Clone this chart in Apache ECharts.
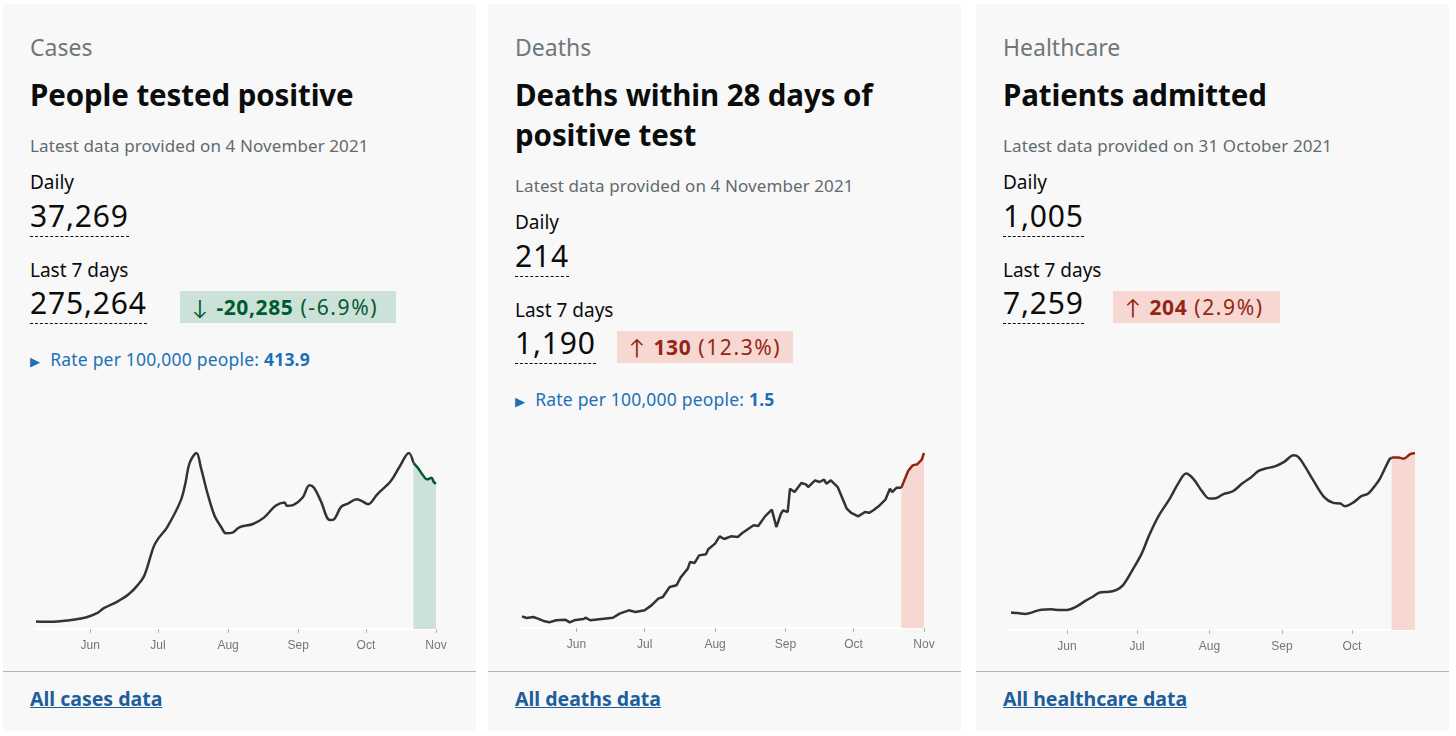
<!DOCTYPE html>
<html>
<head>
<meta charset="utf-8">
<title>Coronavirus summary</title>
<script src="https://cdn.jsdelivr.net/npm/echarts@6/dist/echarts.min.js"></script>
<style>
	body { margin:0; width:1456px; height:736px; background:#fff; font-family:"Noto Sans", Lato, sans-serif; color:#0b0c0c; overflow:hidden; }
	.card { position:absolute; top:4px; width:473px; height:727px; background:#f8f8f8; }
	.card > * { position:absolute; left:27px; margin:0; white-space:nowrap; }
	.caption { top:28px; font-size:23px; line-height:30px; color:#6f777b; }
	.headline { top:71px; font-size:29.5px; line-height:40px; font-weight:700; letter-spacing:-0.1px; }
	.updated { font-size:17px; line-height:24px; color:#626a6e; letter-spacing:0.1px; }
	.label { font-size:19px; line-height:26px; }
	.num { font-size:30px; line-height:32px; padding-bottom:4px; border-bottom:1px dashed #0b0c0c; letter-spacing:0.8px; }
	.badge { height:32px; line-height:32px; font-size:21px; padding:0 12px; letter-spacing:1.6px; }
	.badge b { letter-spacing:0.6px; }
	.down { background:#cce2d8; color:#005a30; }
	.up { background:#f6d7d2; color:#942514; }
	.rate { font-size:17.5px; line-height:24px; color:#1d70b8; letter-spacing:0.2px; }
	.rate .tri { font-size:13px; margin-right:10px; }
	.chart { left:0 !important; top:420px; width:473px; height:240px; }
	.rule { left:0 !important; top:667px; width:473px; height:1px; background:#b1b4b6; }
	.more { top:682px; font-size:19.5px; line-height:26px; font-weight:700; color:#1d5e9b; text-decoration:underline; }
</style>
</head>
<body>

<div class="card" style="left:3px">
	<div class="caption">Cases</div>
	<h2 class="headline">People tested positive</h2>
	<div class="updated" style="top:130px">Latest data provided on 4 November 2021</div>
	<div class="label" style="top:165px">Daily</div>
	<div class="num" style="top:196px">37,269</div>
	<div class="label" style="top:253px">Last 7 days</div>
	<div class="num" style="top:283px">275,264</div>
	<div class="badge down" style="top:287px;left:177px;padding-right:18px">&#8595; <b>-20,285</b> (-6.9%)</div>
	<div class="rate" style="top:343px"><span class="tri">&#9654;</span>Rate per 100,000 people: <b>413.9</b></div>
	<div class="chart" id="chartCases"></div>
	<div class="rule"></div>
	<div class="more">All cases data</div>
</div>

<div class="card" style="left:488px">
	<div class="caption">Deaths</div>
	<h2 class="headline">Deaths within 28 days of<br>positive test</h2>
	<div class="updated" style="top:170px">Latest data provided on 4 November 2021</div>
	<div class="label" style="top:205px">Daily</div>
	<div class="num" style="top:236px">214</div>
	<div class="label" style="top:293px">Last 7 days</div>
	<div class="num" style="top:323px">1,190</div>
	<div class="badge up" style="top:327px;left:129px">&#8593; <b>130</b> (12.3%)</div>
	<div class="rate" style="top:383px"><span class="tri">&#9654;</span>Rate per 100,000 people: <b>1.5</b></div>
	<div class="chart" id="chartDeaths"></div>
	<div class="rule"></div>
	<div class="more">All deaths data</div>
</div>

<div class="card" style="left:976px">
	<div class="caption">Healthcare</div>
	<h2 class="headline">Patients admitted</h2>
	<div class="updated" style="top:130px">Latest data provided on 31 October 2021</div>
	<div class="label" style="top:165px">Daily</div>
	<div class="num" style="top:196px">1,005</div>
	<div class="label" style="top:253px">Last 7 days</div>
	<div class="num" style="top:283px">7,259</div>
	<div class="badge up" style="top:287px;left:137px;padding-right:16px">&#8593; <b>204</b> (2.9%)</div>
	<div class="chart" id="chartHealthcare"></div>
	<div class="rule"></div>
	<div class="more">All healthcare data</div>
</div>

<script type="text/javascript">

	const monthNames = ["Jan","Feb","Mar","Apr","May","Jun","Jul","Aug","Sep","Oct","Nov","Dec"];

	// cases, 7-day average (people tested positive)
	const casesDates = ["2021-05-08","2021-05-14","2021-05-22","2021-05-30","2021-06-04","2021-06-07","2021-06-13","2021-06-18","2021-06-22","2021-06-25","2021-06-29","2021-07-01","2021-07-05","2021-07-11","2021-07-13","2021-07-15","2021-07-18","2021-07-20","2021-07-23","2021-07-26","2021-07-29","2021-07-31","2021-08-03","2021-08-06","2021-08-12","2021-08-17","2021-08-22","2021-08-26","2021-08-27","2021-08-30","2021-09-03","2021-09-06","2021-09-08","2021-09-11","2021-09-15","2021-09-17","2021-09-20","2021-09-23","2021-09-27","2021-09-29","2021-10-02","2021-10-06","2021-10-12","2021-10-16","2021-10-20","2021-10-22","2021-10-24","2021-10-26","2021-10-28","2021-10-30","2021-10-31","2021-11-01"];
	const casesValues = [2070,1980,2340,3150,4320,5670,7470,9450,11970,14670,22320,24570,27720,34920,39420,45270,47970,43920,36720,30870,27720,26100,26280,27720,28620,30420,33570,34470,33570,33840,35820,39150,38520,34920,29700,29970,33300,34200,35370,34920,34020,36720,40320,44370,47970,45300,43900,42100,40800,41200,40100,39600];
	const casesFrom = "2021-10-22";

	// deaths within 28 days of positive test, 7-day average
	const deathsDates = ["2021-05-08","2021-05-10","2021-05-13","2021-05-15","2021-05-18","2021-05-20","2021-05-23","2021-05-27","2021-05-29","2021-05-31","2021-06-04","2021-06-05","2021-06-07","2021-06-13","2021-06-17","2021-06-20","2021-06-24","2021-06-27","2021-07-01","2021-07-04","2021-07-07","2021-07-09","2021-07-12","2021-07-15","2021-07-17","2021-07-20","2021-07-21","2021-07-23","2021-07-25","2021-07-28","2021-07-29","2021-08-01","2021-08-03","2021-08-05","2021-08-08","2021-08-11","2021-08-13","2021-08-18","2021-08-20","2021-08-23","2021-08-26","2021-08-28","2021-08-30","2021-08-31","2021-09-02","2021-09-03","2021-09-05","2021-09-08","2021-09-10","2021-09-11","2021-09-14","2021-09-16","2021-09-18","2021-09-19","2021-09-21","2021-09-24","2021-09-28","2021-09-30","2021-10-03","2021-10-06","2021-10-08","2021-10-10","2021-10-12","2021-10-15","2021-10-17","2021-10-18","2021-10-20","2021-10-22","2021-10-25","2021-10-27","2021-10-29","2021-10-31","2021-11-01"];
	const deathsValues = [11.3,9.7,10.7,9.1,6.5,5.5,7.5,8.1,5.5,7.5,8.7,10.0,7.5,9.1,10.0,13.9,17.2,15.6,17.2,22.0,28.5,30.1,39.9,41.5,49.6,57.7,64.2,63.2,70.6,71.6,76.5,82.0,89.1,86.5,89.1,88.5,92.3,99.8,99.1,108.5,115.0,98.2,111.1,114.4,112.8,135.4,132.2,140.9,139.6,137.0,143.5,141.9,144.2,140.3,143.5,137.0,116.0,111.8,108.5,112.8,112.1,115.0,118.3,124.7,135.4,132.2,136.4,136.4,152.6,158.1,159.1,163.6,170.1];
	const deathsFrom = "2021-10-22";

	// patients admitted, 7-day average
	const admissionsDates = ["2021-05-08","2021-05-11","2021-05-14","2021-05-16","2021-05-21","2021-05-25","2021-05-29","2021-06-01","2021-06-05","2021-06-09","2021-06-12","2021-06-15","2021-06-19","2021-06-22","2021-06-25","2021-06-29","2021-07-03","2021-07-06","2021-07-10","2021-07-15","2021-07-19","2021-07-22","2021-07-25","2021-07-29","2021-08-01","2021-08-03","2021-08-05","2021-08-07","2021-08-11","2021-08-15","2021-08-19","2021-08-22","2021-08-25","2021-08-29","2021-09-02","2021-09-06","2021-09-08","2021-09-11","2021-09-14","2021-09-19","2021-09-23","2021-09-26","2021-09-28","2021-10-02","2021-10-05","2021-10-08","2021-10-11","2021-10-13","2021-10-17","2021-10-18","2021-10-21","2021-10-23","2021-10-26","2021-10-28"];
	const admissionsValues = [103,99,94,99,119,121,117,117,137,172,195,220,224,234,263,351,449,550,663,770,868,917,887,809,770,770,780,796,813,858,897,932,946,959,985,1024,1014,956,887,780,745,741,725,751,784,800,848,887,998,1010,1010,1004,1030,1037];
	const admissionsFrom = "2021-10-18";

	const DAY = 24 * 3600 * 1000;

	const Spark = function(id, dates, values, from, accent, fill, smooth, grid){
		let chart = echarts.init(document.getElementById(id));
		let pairs = dates.map((d, i) => [d, values[i]]);
		let cut = new Date(from).getTime();
		let main = pairs.filter(p => new Date(p[0]).getTime() <= cut);
		let recent = pairs.filter(p => new Date(p[0]).getTime() >= cut);
		let last = dates[dates.length - 1];

		chart.setOption({
			animation: false,
			grid: grid,
			xAxis: {
				type: "time",
				min: dates[0],
				max: last,
				minInterval: 28 * DAY,
				maxInterval: 31 * DAY,
				axisLine: { lineStyle: { color: "#ffffff", width: 2 } },
				axisTick: { show: true, length: 4, lineStyle: { color: "#b1b4b6" } },
				splitLine: { show: false },
				axisLabel: {
					color: "#6f777b",
					fontSize: 12,
					fontFamily: "Liberation Sans, Arial, sans-serif",
					margin: 11,
					showMinLabel: false,
					// end label only when the series stops on a month start
					showMaxLabel: new Date(last).getDate() === 1,
					formatter: v => {
						let d = new Date(v);
						return d.getDate() === 1 ? monthNames[d.getMonth()] : "";
					}
				}
			},
			yAxis: {
				type: "value",
				min: 0,
				max: "dataMax",
				show: false
			},
			series: [
				{
					type: "line",
					data: main,
					showSymbol: false,
					smooth: smooth,
					lineStyle: { color: "#333333", width: 2.5 },
					z: 3
				},
				{
					type: "line",
					data: recent,
					showSymbol: false,
					smooth: smooth,
					lineStyle: { color: accent, width: 2.5 },
					areaStyle: { color: fill, opacity: 1 },
					z: 2
				}
			]
		});
		return chart;
	};

	Spark("chartCases", casesDates, casesValues, casesFrom, "#005a30", "#cce2d8", 0.35,
		{ left: 33, right: 40, top: 29, bottom: 35 });
	Spark("chartDeaths", deathsDates, deathsValues, deathsFrom, "#942514", "#f6d7d2", false,
		{ left: 34, right: 37, top: 29, bottom: 36 });
	Spark("chartHealthcare", admissionsDates, admissionsValues, admissionsFrom, "#942514", "#f6d7d2", 0.35,
		{ left: 35, right: 34, top: 29, bottom: 34 });

</script>
</body>
</html>
